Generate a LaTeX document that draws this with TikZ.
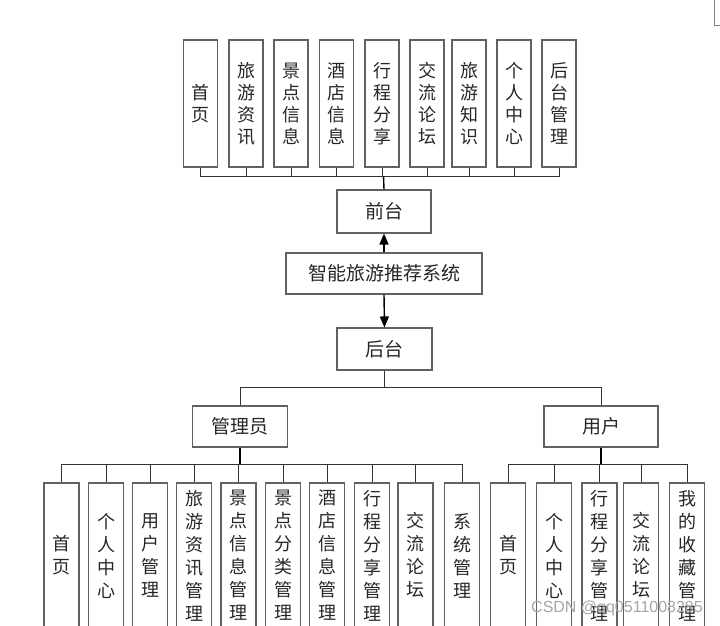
\documentclass[tikz,border=0pt]{standalone}
\usepackage{fontspec}
\newfontfamily\cjk{Noto Sans CJK SC}
\usetikzlibrary{arrows.meta}
\tikzset{
  box/.style={draw=black!62, line width=1.1pt, rectangle, inner sep=0pt, font=\cjk\fontsize{18}{22}\selectfont, text=black!85},
  vbox/.style={box, minimum width=34pt, minimum height=127pt, align=center},
  lbox/.style={box, minimum width=35pt, minimum height=145pt, align=center, font=\cjk\fontsize{18}{23}\selectfont},
  hbox/.style={box, font=\cjk\fontsize{19}{22}\selectfont},
  conn/.style={draw=black!80, line width=0.9pt},
  stem/.style={draw=black, line width=1.4pt},
  arr/.style={draw=black, line width=1.4pt, -{Triangle[width=9pt,length=11pt]}}
}
\begin{document}
\begin{tikzpicture}[x=1pt,y=-1pt]
\useasboundingbox (0,0) rectangle (720,626);
\clip (0,0) rectangle (720,626);
% fragment of a box at top right
\draw[draw=black!50, line width=1pt] (714,-5) -- (714,26) -- (730,26);
% top boxes
\node[vbox] (t1) at (200.5,103.5) {首\\页};
\node[vbox] (t2) at (246,103.5) {旅\\游\\资\\讯};
\node[vbox] (t3) at (291,103.5) {景\\点\\信\\息};
\node[vbox] (t4) at (336.5,103.5) {酒\\店\\信\\息};
\node[vbox] (t5) at (382,103.5) {行\\程\\分\\享};
\node[vbox] (t6) at (427,103.5) {交\\流\\论\\坛};
\node[vbox] (t7) at (469,103.5) {旅\\游\\知\\识};
\node[vbox] (t8) at (514,103.5) {个\\人\\中\\心};
\node[vbox] (t9) at (559,103.5) {后\\台\\管\\理};
\node[hbox, minimum width=94pt, minimum height=43pt] (qt) at (384,211.5) {前台};
\node[hbox, minimum width=196pt, minimum height=41pt] (sys) at (384,273.5) {智能旅游推荐系统};
\node[hbox, minimum width=95pt, minimum height=42pt] (ht) at (384.5,349) {后台};
\node[hbox, minimum width=95pt, minimum height=41pt] (gl) at (240,426.5) {管理员};
\node[hbox, minimum width=114pt, minimum height=41pt] (yh) at (601,426.5) {用户};
% admin children
\node[lbox] (a1) at (61.5,555.5) {首\\页};
\node[lbox] (a2) at (106,555.5) {个\\人\\中\\心};
\node[lbox] (a3) at (150,555.5) {用\\户\\管\\理};
\node[lbox] (a4) at (194,555.5) {旅\\游\\资\\讯\\管\\理};
\node[lbox] (a5) at (238.5,555.5) {景\\点\\信\\息\\管\\理};
\node[lbox] (a6) at (283,555.5) {景\\点\\分\\类\\管\\理};
\node[lbox] (a7) at (327,555.5) {酒\\店\\信\\息\\管\\理};
\node[lbox] (a8) at (372,555.5) {行\\程\\分\\享\\管\\理};
\node[lbox] (a9) at (415.5,555.5) {交\\流\\论\\坛};
\node[lbox] (a10) at (462,555.5) {系\\统\\管\\理};
% user children
\node[lbox] (u1) at (508,555.5) {首\\页};
\node[lbox] (u2) at (554,555.5) {个\\人\\中\\心};
\node[lbox] (u3) at (599.5,555.5) {行\\程\\分\\享\\管\\理};
\node[lbox] (u4) at (641,555.5) {交\\流\\论\\坛};
\node[lbox] (u5) at (687,555.5) {我\\的\\收\\藏\\管\\理};
% connectors top
\coordinate (fb) at (383.5,176);
\foreach \i in {1,...,9} { \draw[conn] (t\i.south) |- (fb); }
\draw[stem] (fb) -- (qt.north);
\draw[arr] (sys.north) -- (qt.south);
\draw[arr] (sys.south) -- (ht.north);
% backend split
\coordinate (hb) at (384.5,387);
\draw[conn] (ht.south) -- (hb);
\draw[conn] (gl.north) |- (hb);
\draw[conn] (yh.north) |- (hb);
% admin bus
\coordinate (ab) at (240,464);
\foreach \i in {1,...,10} { \draw[conn] (a\i.north) |- (ab); }
\draw[stem] (gl.south) -- (ab);
% user bus
\coordinate (ub) at (601,464);
\foreach \i in {1,...,5} { \draw[conn] (u\i.north) |- (ub); }
\draw[stem] (yh.south) -- (ub);
% watermark
\node[text=black!35, font=\fontspec{Liberation Sans}\fontsize{16}{16}\selectfont, inner sep=0pt] (wm) at (617,608) {CSDN @qq0511008285};
\end{tikzpicture}
\end{document}
